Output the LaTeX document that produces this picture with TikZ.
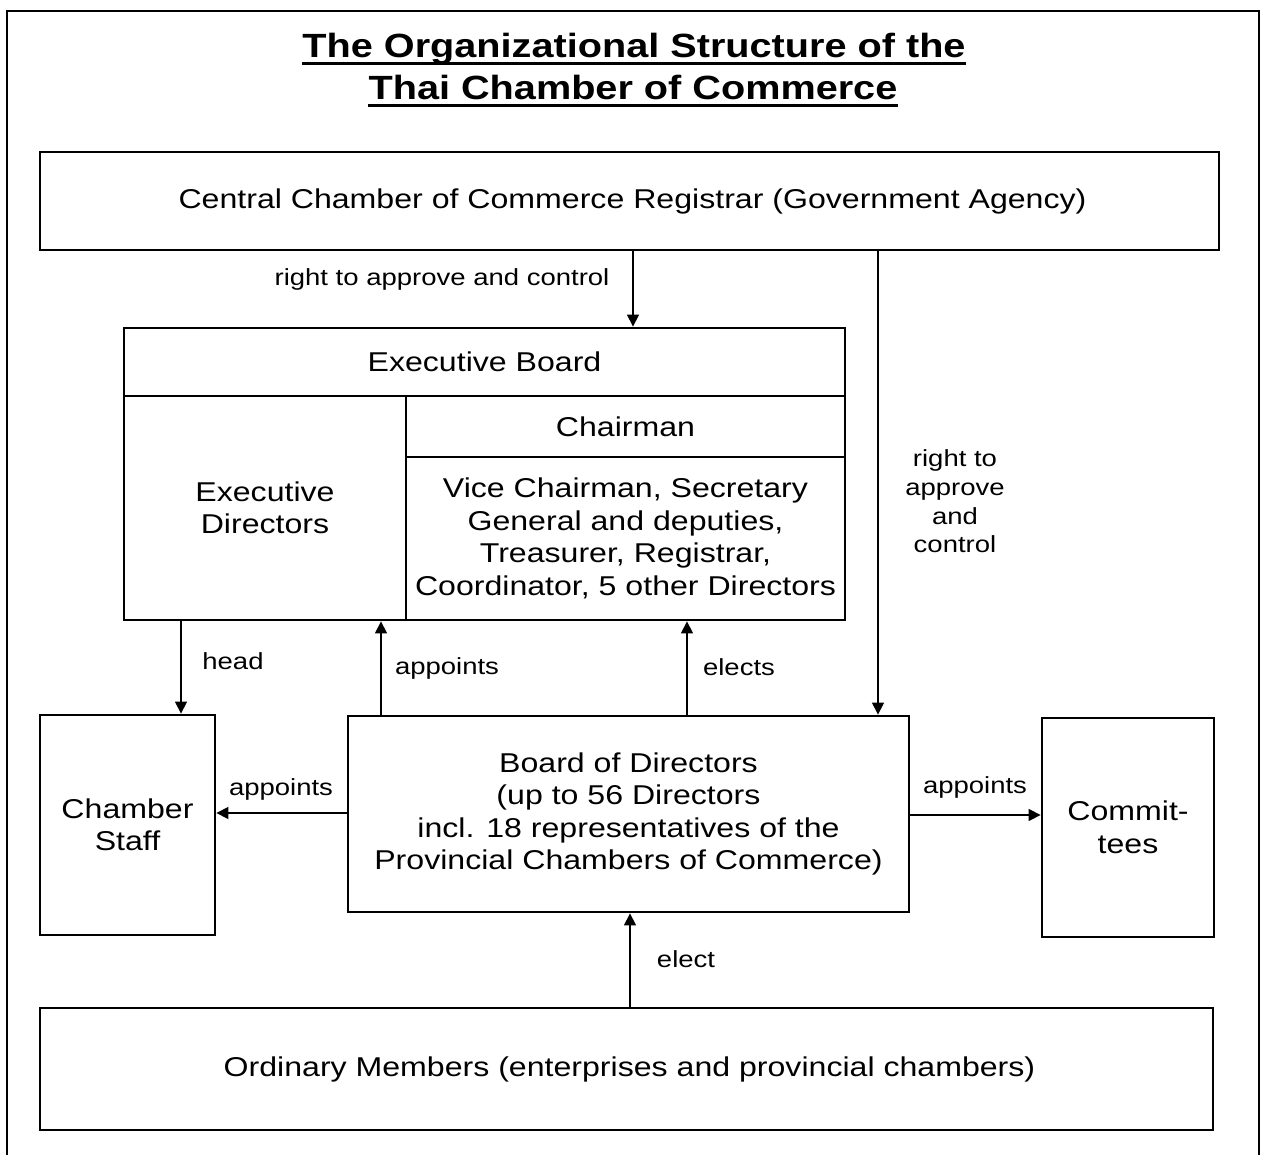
\documentclass[tikz,border=0pt]{standalone}
\usepackage{fontspec}
\setmainfont{Liberation Sans}[FakeStretch=1.18]
\usetikzlibrary{arrows.meta}
\newcommand\bodyfnt{\fontsize{27.2}{32.5}\selectfont}
\newcommand\labfnt{\fontsize{23.3}{28.7}\selectfont}
\newcommand\titlefnt{\bfseries\fontsize{33.6}{42}\selectfont}
\begin{document}
\begin{tikzpicture}[x=1pt,y=-1pt,
  box/.style={draw, line width=2.8pt, inner sep=0pt, align=center, font=\bodyfnt},
  arr/.style={line width=1.3pt, -{Triangle[length=12pt,width=12pt]}},
  lab/.style={inner sep=0pt, align=center, font=\labfnt},
  ttl/.style={inner sep=0pt, font=\titlefnt, anchor=base}]
\useasboundingbox (0,0) rectangle (1264,1155);
% outer frame
\draw[line width=2pt] (7,1160) -- (7,11) -- (1259,11) -- (1259,1160);
% title
\node[ttl] (t1) at (634,57.5) {The Organizational Structure of the};
\node[ttl] (t2) at (633,99.5) {Thai Chamber of Commerce};
\draw[line width=3pt] ([yshift=-6.5pt]t1.base west) -- ([yshift=-6.5pt]t1.base east);
\draw[line width=3pt] ([yshift=-6.5pt]t2.base west) -- ([yshift=-6.5pt]t2.base east);
% boxes
\node[box, minimum width=1179pt, minimum height=98pt] (reg) at (629.5,201) {\hspace*{6pt}Central Chamber of Commerce Registrar (Government Agency)};
\node[box, minimum width=721pt, minimum height=68pt] (hdr) at (484.5,362) {Executive Board};
\node[box, minimum width=282pt, minimum height=224pt] (ed) at (265,508) {Executive\\Directors};
\node[box, minimum width=439pt, minimum height=61pt] (chair) at (625.5,426.5) {Chairman};
\node[box, minimum width=439pt, minimum height=163pt] (vice) at (625.5,538.5) {Vice Chairman, Secretary\\General and deputies,\\Treasurer, Registrar,\\Coordinator, 5 other Directors};
\node[box, minimum width=561pt, minimum height=196pt] (bod) at (628.5,814) {Board of Directors\\(up to 56 Directors\\incl. 18 representatives of the\\Provincial Chambers of Commerce)};
\node[box, minimum width=175pt, minimum height=220pt] (staff) at (127.5,825) {Chamber\\Staff};
\node[box, minimum width=172pt, minimum height=219pt] (comm) at (1128,827.5) {Commit-\\tees};
\node[box, minimum width=1173pt, minimum height=122pt] (ord) at (626.5,1069) {\hspace*{6pt}Ordinary Members (enterprises and provincial chambers)};
% connector columns / rows
\coordinate (c1) at (633,0);
\coordinate (c2) at (878,0);
\coordinate (c3) at (181,0);
\coordinate (c4) at (381,0);
\coordinate (c5) at (687,0);
\coordinate (c6) at (630,0);
\coordinate (r1) at (0,813);
\coordinate (r2) at (0,815);
% connectors
\draw[arr] (reg.south -| c1) -- (hdr.north -| c1);
\draw[arr] (reg.south -| c2) -- (bod.north -| c2);
\draw[arr] (ed.south -| c3) -- (staff.north -| c3);
\draw[arr] (bod.north -| c4) -- (ed.south -| c4);
\draw[arr] (bod.north -| c5) -- (vice.south -| c5);
\draw[arr] (bod.west |- r1) -- (staff.east |- r1);
\draw[arr] (bod.east |- r2) -- (comm.west |- r2);
\draw[arr] (ord.north -| c6) -- (bod.south -| c6);
% labels
\node[lab, anchor=base] (l1) at (442,286) {right to approve and control};
\node[lab] (l2) at (955,501.5) {right to\\approve\\and\\control};
\node[lab, anchor=base] (l3) at (233,669) {head};
\node[lab, anchor=base] (l4) at (447,674) {appoints};
\node[lab, anchor=base] (l5) at (739,675) {elects};
\node[lab, anchor=base] (l6) at (281,795) {appoints};
\node[lab, anchor=base] (l7) at (975,793) {appoints};
\node[lab, anchor=base] (l8) at (686,967) {elect};
\end{tikzpicture}
\end{document}
